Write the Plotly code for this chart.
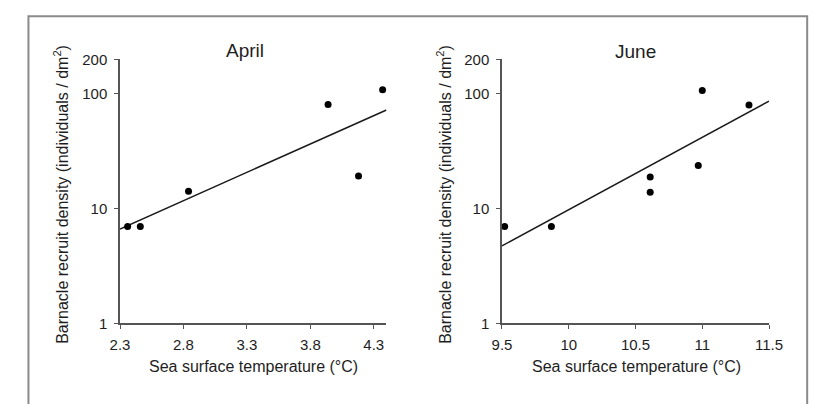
import numpy as np
import plotly.graph_objects as go

# Barnacle recruit density vs. sea surface temperature, two months
april_sst = [2.36, 2.46, 2.84, 3.94, 4.18, 4.37]
april_density = [7.0, 7.0, 14.2, 81.0, 19.3, 109.0]

june_sst = [9.52, 9.87, 10.61, 10.61, 10.97, 11.0, 11.35]
june_density = [7.0, 7.0, 18.9, 13.9, 23.8, 107.0, 80.0]

april_xrange = [2.3, 4.4]
june_xrange = [9.5, 11.5]
april_xticks = [2.3, 2.8, 3.3, 3.8, 4.3]
june_xticks = [9.5, 10, 10.5, 11, 11.5]
june_xticktext = ["9.5", "10", "10.5", "11", "11.5"]
y_ticks = [1, 10, 100, 200]

FONT = "Liberation Sans, Arial, sans-serif"
TEXT = "#1e1e1e"
AXIS = "#555555"

W, H = 827, 404


def px_x(p):
    return p / W


def px_y(p):
    return 1 - p / H


def log_fit(x, y, xr):
    """Least-squares fit of log10(y) on x, evaluated at the axis ends."""
    slope, icpt = np.polyfit(np.asarray(x), np.log10(np.asarray(y)), 1)
    xs = np.array(xr, dtype=float)
    return xs, 10 ** (icpt + slope * xs)


fig = go.Figure()

panels = [
    ("x", "y", april_sst, april_density, april_xrange),
    ("x2", "y2", june_sst, june_density, june_xrange),
]
for xa, ya, xs, ys, xr in panels:
    fx, fy = log_fit(xs, ys, xr)
    fig.add_trace(go.Scatter(x=fx, y=fy, mode="lines", xaxis=xa, yaxis=ya,
                             line=dict(color="#1a1a1a", width=1.5),
                             cliponaxis=False, showlegend=False, hoverinfo="skip"))
    fig.add_trace(go.Scatter(x=xs, y=ys, mode="markers", xaxis=xa, yaxis=ya,
                             marker=dict(color="#000000", size=7),
                             cliponaxis=False, showlegend=False))

y_dom = [px_y(328.3), px_y(52.6)]
common_x = dict(showgrid=False, zeroline=False, showline=True, linecolor=AXIS,
                linewidth=1.5, ticks="outside", ticklen=4, tickwidth=1.2,
                tickcolor=AXIS, ticklabelstandoff=3,
                tickfont=dict(family=FONT, size=15, color=TEXT))
common_y = dict(type="log", range=[0, np.log10(200)], domain=y_dom,
                showgrid=False, zeroline=False, showline=True, linecolor=AXIS,
                linewidth=1.5, ticks="outside", ticklen=4, tickwidth=1.2,
                tickcolor=AXIS, ticklabelstandoff=4,
                tickvals=y_ticks, ticktext=[str(v) for v in y_ticks],
                tickfont=dict(family=FONT, size=15, color=TEXT))

fig.update_layout(
    width=W, height=H,
    margin=dict(l=0, r=0, t=0, b=0),
    paper_bgcolor="white", plot_bgcolor="white",
    xaxis=dict(common_x, range=april_xrange, domain=[px_x(113.3), px_x(387.7)],
               tickvals=april_xticks, ticktext=[str(v) for v in april_xticks], anchor="y"),
    yaxis=dict(common_y, anchor="x"),
    xaxis2=dict(common_x, range=june_xrange, domain=[px_x(506.7), px_x(781.7)],
                tickvals=june_xticks, ticktext=june_xticktext, anchor="y2"),
    yaxis2=dict(common_y, anchor="x2"),
)

# outer frame (open at the bottom edge of the page)
fig.add_shape(type="rect", xref="paper", yref="paper",
              x0=px_x(19), x1=px_x(821), y0=-0.1, y1=px_y(7.5),
              line=dict(color="#8a8a8a", width=2), fillcolor="rgba(0,0,0,0)")

title_font = dict(family=FONT, size=19, color=TEXT)
label_font = dict(family=FONT, size=16, color=TEXT)
ytitle = "Barnacle recruit density (individuals / dm<sup>2</sup>)"
xtitle = "Sea surface temperature (°C)"

annotations = [
    dict(text="April", x=px_x(241.7), y=px_y(43), font=title_font),
    dict(text="June", x=px_x(643.7), y=px_y(44), font=title_font),
    dict(text=xtitle, x=px_x(250.5), y=px_y(373.5), font=label_font),
    dict(text=xtitle, x=px_x(645.3), y=px_y(373.5), font=label_font),
    dict(text=ytitle, x=px_x(52.5), y=px_y(193), font=label_font, textangle=-90),
    dict(text=ytitle, x=px_x(447.5), y=px_y(193.5), font=label_font, textangle=-90),
]
for a in annotations:
    fig.add_annotation(xref="paper", yref="paper", showarrow=False,
                       xanchor="center", yanchor="middle", **a)

fig.write_html("out.html")
